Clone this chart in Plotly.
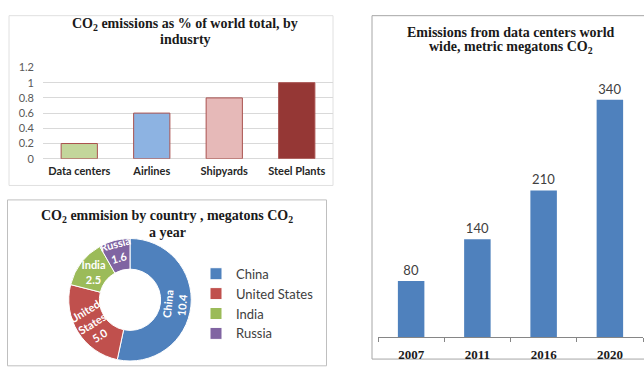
import plotly.graph_objects as go

W, H = 644, 367

# ---- data ----
industries = ["Data centers", "Airlines", "Shipyards", "Steel Plants"]
industry_share = [0.2, 0.6, 0.8, 1.0]
industry_colors = ["#c3d69b", "#8db3e2", "#e6b9b8", "#953735"]

countries = ["China", "United States", "India", "Russia"]
country_labels = ["China", "United<br>States", "India", "Russia"]
country_mt = [10.4, 5.0, 2.5, 1.6]
country_colors = ["#4f81bd", "#c0504d", "#9bbb59", "#8064a2"]
# orientation of each slice's label (as laid out in the source chart)
label_orient = ["tangential", "radial", "horizontal", "tangential"]

years = ["2007", "2011", "2016", "2020"]
dc_emissions = [80, 140, 210, 340]


def px(x):
    return x / W


def py(y):
    return 1 - y / H


SERIF = "Liberation Serif"
SANS = "Lato"

fig = go.Figure()

# Panel 1: industry bar chart
fig.add_trace(go.Bar(
    x=industries, y=industry_share, width=0.5,
    marker=dict(color=industry_colors, line=dict(color="#a9514e", width=1)),
    xaxis="x", yaxis="y", showlegend=False, hoverinfo="skip",
))

# Panel 3: data center emissions
fig.add_trace(go.Bar(
    x=years, y=dc_emissions, width=0.4,
    marker=dict(color="#4f81bd", line=dict(width=0)),
    text=[str(v) for v in dc_emissions], textposition="outside",
    textfont=dict(family=SANS, size=13, color="#404040"),
    cliponaxis=False,
    xaxis="x2", yaxis="y2", showlegend=False, hoverinfo="skip",
))

# Panel 2: donut
pie_domain = dict(x=[px(66), px(194)], y=[0, py(240)])
HOLE = 0.5
fig.add_trace(go.Pie(
    labels=countries, values=country_mt,
    textinfo="none",
    marker=dict(colors=country_colors, line=dict(color="white", width=1)),
    hole=HOLE, sort=False, direction="clockwise", rotation=0,
    domain=pie_domain, hoverinfo="skip",
))
# label layers: one transparent donut per label orientation
slice_text = [f"{l}<br>{v:.1f}" for l, v in zip(country_labels, country_mt)]
for orient in ["tangential", "radial", "horizontal"]:
    txt = [t if o == orient else "" for t, o in zip(slice_text, label_orient)]
    fig.add_trace(go.Pie(
        labels=countries, values=country_mt,
        text=txt, textinfo="text", textposition="inside",
        insidetextorientation=orient,
        insidetextfont=dict(family=SANS, size=11, color="white", weight="bold"),
        marker=dict(colors=["rgba(0,0,0,0)"] * len(countries),
                    line=dict(width=0)),
        hole=HOLE, sort=False, direction="clockwise", rotation=0,
        domain=pie_domain, hoverinfo="skip", showlegend=False,
    ))

px_per_unit = 0.723
y2_top = 80
fig.update_layout(
    width=W, height=H,
    margin=dict(l=0, r=0, t=0, b=0),
    paper_bgcolor="white", plot_bgcolor="white",
    uniformtext=dict(minsize=11, mode="show"),
    xaxis=dict(domain=[px(43), px(333)], anchor="y", type="category",
               showgrid=False, showline=False, ticks="", zeroline=False,
               tickfont=dict(family=SANS, size=11, color="#262626", weight="bold"),
               ticklabelstandoff=4, fixedrange=True),
    yaxis=dict(domain=[py(157.3), py(62.7)], anchor="x", range=[0, 1.2], dtick=0.2,
               showgrid=True, gridcolor="#d9d9d9", gridwidth=1, zeroline=True,
               zerolinecolor="#d9d9d9", zerolinewidth=1, showline=False,
               tickfont=dict(family=SANS, size=11, color="#595959"),
               ticklabelstandoff=8, fixedrange=True),
    xaxis2=dict(domain=[px(378), px(643)], anchor="y2", type="category",
                showgrid=False, showline=True, linecolor="#868686", linewidth=1,
                ticks="outside", ticklen=4, tickcolor="#868686", tickson="boundaries",
                tickfont=dict(family=SERIF, size=13, color="#1a1a1a", weight="bold"),
                ticklabelstandoff=6, fixedrange=True),
    yaxis2=dict(domain=[py(342), py(y2_top)], anchor="x2",
                range=[0, (342 - y2_top) / px_per_unit], visible=False,
                fixedrange=True),
    legend=dict(x=px(196), y=py(261), xanchor="left", yanchor="top",
                font=dict(family=SANS, size=13, color="#404040"),
                bgcolor="rgba(0,0,0,0)", traceorder="normal"),
    showlegend=True,
)

# Panel borders
fig.add_shape(type="rect", xref="paper", yref="paper",
              x0=px(9), x1=px(333), y0=py(185), y1=py(9),
              line=dict(color="#e0e0e0", width=1), layer="below")
fig.add_shape(type="rect", xref="paper", yref="paper",
              x0=px(7.5), x1=px(326.5), y0=py(372), y1=py(200),
              line=dict(color="#bfbfbf", width=1), layer="below")
fig.add_shape(type="rect", xref="paper", yref="paper",
              x0=px(372), x1=px(646), y0=py(365), y1=py(9),
              line=dict(color="#a6a6a6", width=1), layer="below")

# Titles (one annotation per line for exact line spacing)
title_font = dict(family=SERIF, size=14, color="#1a1a1a", weight="bold")
titles = [
    ("CO<sub>2</sub> emissions as % of world total, by", 185, 18.5),
    ("indusrty", 185, 33.5),
    ("CO<sub>2</sub> emmision by country , megatons CO<sub>2</sub>", 167, 217.5),
    ("a year", 167, 233.5),
    ("Emissions from data centers world", 510.5, 26),
    ("wide, metric megatons CO<sub>2</sub>", 510.5, 42),
]
for txt, tx, ty in titles:
    fig.add_annotation(text=txt, xref="paper", yref="paper", x=px(tx), y=py(ty),
                       xanchor="center", yanchor="middle", showarrow=False,
                       font=title_font)

fig.write_html("out.html")
